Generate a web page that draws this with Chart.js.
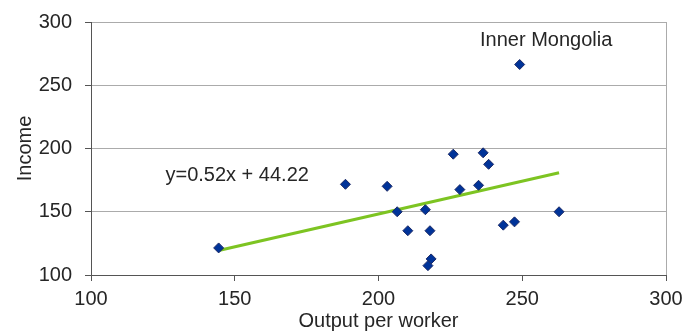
<!DOCTYPE html>
<html>
<head>
<meta charset="utf-8">
<script src="https://cdn.jsdelivr.net/npm/chart.js@4/dist/chart.umd.min.js"></script>
<style>
  html, body { margin: 0; padding: 0; background: #fff; }
  #wrap { width: 683px; height: 333px; }
</style>
</head>
<body>
<div id="wrap"><canvas id="c" width="683" height="333"></canvas></div>
<script>
// Output per worker vs. income, one point per province
const outputPerWorker = [144.4, 188.5, 203.0, 206.5, 210.2, 216.3, 217.9, 218.3, 217.2, 226.0, 228.3, 234.8, 236.4, 238.3, 243.4, 247.3, 249.1, 262.8];
const income          = [121.4, 171.7, 170.1, 150.0, 135.0, 151.6, 135.0, 112.7, 107.4, 195.5, 167.5, 170.9, 196.6, 187.5, 139.4, 142.0, 266.4, 150.0];

// Linear fit y = slope * x + intercept
const slope = 0.52;
const intercept = 44.22;

const xTicks = [100, 150, 200, 250, 300];
const yTicks = [100, 150, 200, 250, 300];

// Text notes placed in data space
const notes = [
  { text: 'y=0.52x + 44.22', x: 125.9, y: 174.3 },
  { text: 'Inner Mongolia', x: 235.3, y: 281.0 }
];

const points = outputPerWorker.map((x, i) => ({ x, y: income[i] }));
const xMin = Math.min(...outputPerWorker);
const xMax = Math.max(...outputPerWorker);
const fitLine = [
  { x: xMin, y: slope * xMin + intercept },
  { x: xMax, y: slope * xMax + intercept }
];

const FONT = 'Liberation Sans, Arial, sans-serif';
const TEXT = '#262626';
const AXIS = '#555555';
const GRID = '#ababab';

// Tick labels may overhang the plot; let the layout padding alone set the plot box
function noLabelPadding(scale) {
  scale.paddingTop = 0;
  scale.paddingBottom = 0;
  scale.paddingLeft = 0;
  scale.paddingRight = 0;
}

const notePlugin = {
  id: 'notes',
  afterDatasetsDraw(chart) {
    const { ctx, scales: { x, y } } = chart;
    ctx.save();
    ctx.font = '20px ' + FONT;
    ctx.fillStyle = TEXT;
    ctx.textAlign = 'left';
    ctx.textBaseline = 'alphabetic';
    notes.forEach(n => ctx.fillText(n.text, x.getPixelForValue(n.x), y.getPixelForValue(n.y)));
    ctx.restore();
  }
};

new Chart(document.getElementById('c'), {
  type: 'scatter',
  data: {
    datasets: [
      {
        label: 'Provinces',
        data: points,
        pointStyle: 'rectRot',
        pointRadius: 5,
        pointHoverRadius: 5,
        backgroundColor: '#003399',
        borderColor: '#1c2a66',
        borderWidth: 1,
        order: 1
      },
      {
        label: 'Fit',
        type: 'line',
        data: fitLine,
        borderColor: '#7dc422',
        borderWidth: 3,
        pointRadius: 0,
        fill: false,
        order: 2
      }
    ]
  },
  plugins: [notePlugin],
  options: {
    responsive: false,
    animation: false,
    layout: { padding: { top: 22, right: 17, left: 0, bottom: 0 } },
    plugins: { legend: { display: false }, tooltip: { enabled: false } },
    scales: {
      x: {
        type: 'linear',
        min: 100,
        max: 300,
        afterBuildTicks(scale) { scale.ticks = xTicks.map(v => ({ value: v })); },
        afterFit(scale) { scale.height = 58; noLabelPadding(scale); },
        border: { color: AXIS, width: 1 },
        grid: {
          color: c => (c.tick && c.tick.value === 300) ? GRID : 'rgba(0,0,0,0)',
          tickColor: AXIS,
          tickLength: 6,
          lineWidth: 1
        },
        ticks: { color: TEXT, font: { family: FONT, size: 20 }, padding: 6, maxRotation: 0 },
        title: {
          display: true,
          text: 'Output per worker',
          color: TEXT,
          font: { family: FONT, size: 20, lineHeight: 1.2 },
          padding: { top: 0, bottom: 0 }
        }
      },
      y: {
        type: 'linear',
        min: 100,
        max: 300,
        afterBuildTicks(scale) { scale.ticks = yTicks.map(v => ({ value: v })); },
        afterFit(scale) { scale.width = 91; noLabelPadding(scale); },
        border: { color: AXIS, width: 1 },
        grid: { color: GRID, tickColor: AXIS, tickLength: 6, lineWidth: 1 },
        ticks: { color: TEXT, font: { family: FONT, size: 20 }, padding: 13 },
        title: {
          display: true,
          text: 'Income',
          color: TEXT,
          font: { family: FONT, size: 20, lineHeight: 1.2 },
          padding: { top: 13, bottom: 0 }
        }
      }
    }
  }
});
</script>
</body>
</html>
